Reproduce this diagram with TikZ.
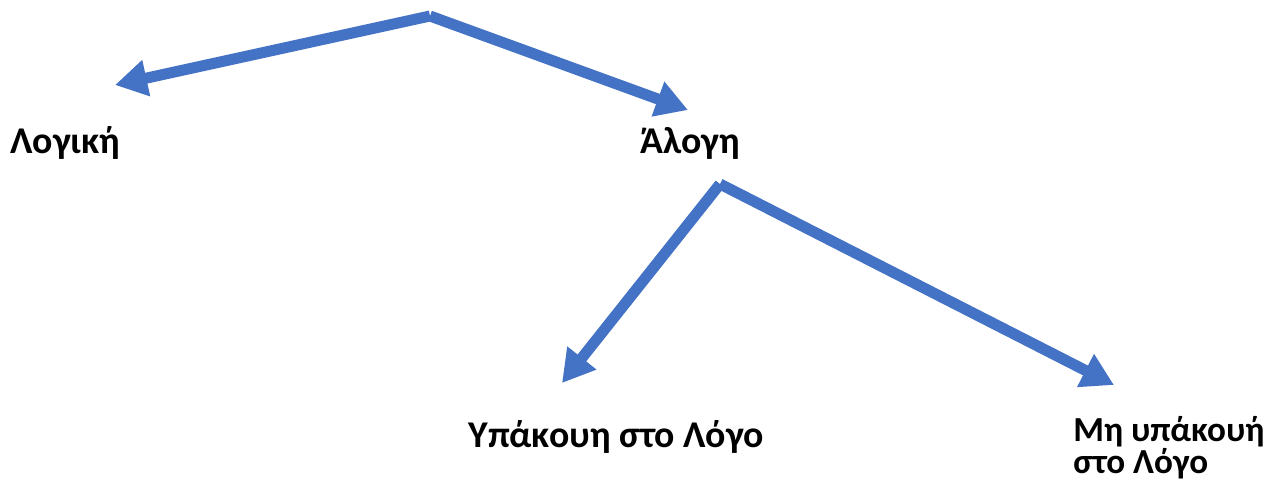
\documentclass[tikz,border=0pt]{standalone}
\usepackage{fontspec}
\setmainfont{Carlito}
\usetikzlibrary{arrows.meta,positioning}
\definecolor{treeblue}{RGB}{68,114,196}
\tikzset{
  brarr/.style={-{Triangle[length=0.64cm, width=0.7cm]}, treeblue, line width=0.22cm},
  lbl/.style={font=\fontsize{21.5}{15.5}\selectfont\bfseries, inner sep=0pt, align=left},
  lblsm/.style={lbl, font=\fontsize{20}{14.5}\selectfont\bfseries},
}
\begin{document}
\begin{tikzpicture}[x=0.02cm, y=-0.02cm]
    \useasboundingbox (0,0) rectangle (1266,481);
    % labels
    \node[lbl, anchor=base west] (logiki) at (10,153) {Λογική};
    \node[lbl, anchor=base west] (alogi) at (640,153) {Άλογη};
    \node[lbl, anchor=base west] (ypakoi) at (468,447) {Υπάκουη στο Λόγο};
    \node[lblsm, anchor=north west] (myypakoi) at (1073,416) {Μη υπάκουή\\στο Λόγο};
    % branch points and arrow tips
    \coordinate (root) at (430,16);
    \coordinate (split) at (720,184);
    \coordinate (tipL) at (115,85);
    \coordinate (tipA) at (688,110);
    \coordinate (tipY) at (562,383);
    \coordinate (tipM) at (1114,385);
    \draw[brarr] (root) -- (tipL);
    \draw[brarr] (root) -- (tipA);
    \draw[brarr] (split) -- (tipY);
    \draw[brarr] (split) -- (tipM);
\end{tikzpicture}
\end{document}
